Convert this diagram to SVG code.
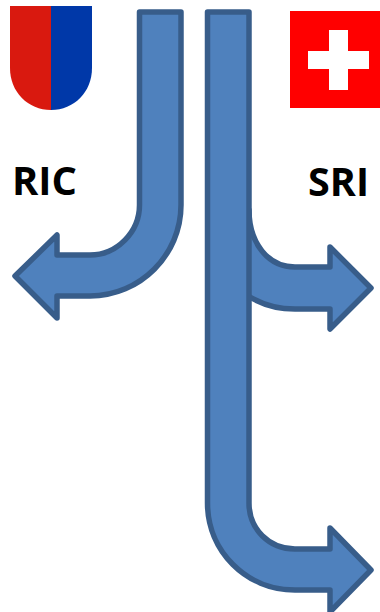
<svg xmlns="http://www.w3.org/2000/svg" width="380" height="612" viewBox="0 0 380 612">
<style>
.arrow{fill:#4f81bd;stroke:#385d8a;stroke-width:5.500;stroke-linejoin:round}
.label{font-family:"Open Sans","Noto Sans",sans-serif;font-weight:700;font-size:39.500px;fill:#000}
</style>
<rect width="380" height="612" fill="#fff"/>
<g id="ric-shield">
<path d="M10 6H51V110C28 110 10 92 10 68Z" fill="#d9190f"/>
<path d="M51 6H92V68C92 92 74 110 51 110Z" fill="#0038a8"/>
</g>
<g id="sri-flag">
<rect x="290" y="11" width="90" height="97" fill="#f00"/>
<path d="M329 30H348V51H369V69H348V90H329V69H308V51H329Z" fill="#fff"/>
</g>
<g id="ric-label"><text class="label" x="12" y="195" textLength="65" lengthAdjust="spacingAndGlyphs">RIC</text></g>
<g id="sri-label"><text class="label" x="308" y="196" textLength="61" lengthAdjust="spacingAndGlyphs">SRI</text></g>
<g id="connectors">
<path id="arrow-ric" class="arrow" d="M139.500 12H181V205C181 255 140 296 90 296H57V318L15 276L57 235V255H90C117 255 139.500 232 139.500 205Z"/>
<path id="arrow-sri" class="arrow" d="M240 210H249C249 243 268 267 295 267H330V247L371 288L330 329V309H295C277 309 260 304 245 294H240Z"/>
<path id="arrow-main" class="arrow" d="M207.500 12H249V503C249 529 269 549 295 549H330V528L371 570L330 612V590H295C246 590 207.500 551 207.500 503Z"/>
</g>
</svg>
